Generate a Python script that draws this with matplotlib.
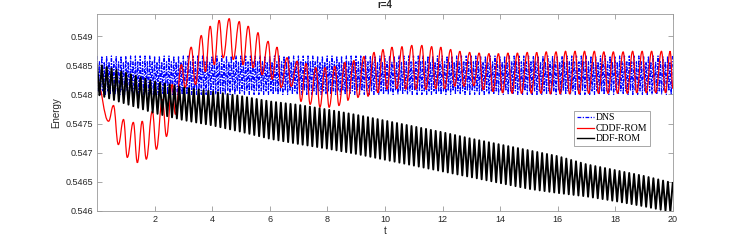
import numpy as np
import matplotlib.pyplot as plt
from matplotlib.path import Path
from matplotlib.patches import PathPatch
from matplotlib.lines import Line2D
from matplotlib.ticker import FuncFormatter

# ---- data ----
# CDDF-ROM: successive extrema (time, energy)
red_t = [0.00, 0.40, 0.57, 0.74, 0.92, 1.05, 1.26, 1.40, 1.57, 1.71, 1.92, 2.06, 2.27, 2.41,
         2.61, 2.72, 2.93, 3.06, 3.27, 3.42, 3.62, 3.76, 3.93, 4.07, 4.24, 4.38, 4.59, 4.73,
         4.94, 5.07, 5.25, 5.42, 5.59, 5.73, 5.94, 6.08, 6.25, 6.39, 6.60, 6.74, 6.95, 7.08,
         7.26, 7.40, 7.60, 7.74, 7.92, 8.06, 8.26, 8.40, 8.61, 8.71, 8.92, 9.06, 9.27, 9.41,
         9.62, 9.75, 9.93, 10.07, 10.24, 10.41, 10.59, 10.72, 10.93, 11.07, 11.28, 11.42,
         11.62, 11.76, 11.94, 12.07, 12.28, 12.42, 12.60, 12.74, 12.94, 13.08, 13.27, 13.41,
         13.61, 13.75, 13.94, 14.08, 14.27, 14.41, 14.60, 14.74, 14.94, 15.08, 15.27, 15.41,
         15.60, 15.74, 15.94, 16.08, 16.27, 16.41, 16.60, 16.74, 16.93, 17.07, 17.27, 17.41,
         17.60, 17.74, 17.93, 18.07, 18.27, 18.41, 18.60, 18.74, 18.93, 19.07, 19.26, 19.40,
         19.60, 19.74, 19.90, 20.00]
red_e = [0.54822, 0.54754, 0.54781, 0.54714, 0.54757, 0.54692, 0.54752, 0.54683, 0.54754,
         0.54689, 0.54771, 0.54706, 0.54791, 0.54728, 0.54817, 0.54766, 0.54851, 0.54812,
         0.54881, 0.54817, 0.54901, 0.54839, 0.54917, 0.54851, 0.54927, 0.54863, 0.54930,
         0.54860, 0.54925, 0.54851, 0.54917, 0.54846, 0.54906, 0.54834, 0.54891, 0.54826,
         0.54881, 0.54812, 0.54863, 0.54814, 0.54857, 0.54788, 0.54853, 0.54783, 0.54846,
         0.54778, 0.54846, 0.54778, 0.54848, 0.54781, 0.54855, 0.54790, 0.54858, 0.54795,
         0.54865, 0.54797, 0.54872, 0.54803, 0.54877, 0.54809, 0.54881, 0.54810, 0.54882,
         0.54809, 0.54884, 0.54809, 0.54884, 0.54809, 0.54882, 0.54810, 0.54881, 0.54810,
         0.54877, 0.54814, 0.54874, 0.54814, 0.54872, 0.54815, 0.54871, 0.54808, 0.54870,
         0.54805, 0.54870, 0.54803, 0.54871, 0.54802, 0.54871, 0.54802, 0.54872, 0.54802,
         0.54872, 0.54802, 0.54873, 0.54801, 0.54873, 0.54801, 0.54874, 0.54801, 0.54874,
         0.54801, 0.54874, 0.54802, 0.54874, 0.54802, 0.54873, 0.54802, 0.54873, 0.54802,
         0.54873, 0.54802, 0.54874, 0.54803, 0.54874, 0.54803, 0.54874, 0.54803, 0.54874,
         0.54803, 0.54874, 0.54810]

# DNS: one cycle of the stationary fast oscillation (successive extrema)
dns_period = 0.1665
dns_cycle = [0.54866, 0.54806, 0.54856, 0.54800]

# DDF-ROM: envelope of the fast oscillation, read at t = 0, 1, ..., 20
ddf_env_t = list(range(21))
ddf_top = [0.54852, 0.54837, 0.54822, 0.54812, 0.54805, 0.54797, 0.54788, 0.54782, 0.54774,
           0.54765, 0.54755, 0.54745, 0.54735, 0.54724, 0.54714, 0.54704, 0.54694, 0.54680,
           0.54670, 0.54660, 0.54648]
ddf_bot = [0.54800, 0.54784, 0.54768, 0.54756, 0.54747, 0.54736, 0.54724, 0.54715, 0.54707,
           0.54698, 0.54688, 0.54678, 0.54668, 0.54658, 0.54648, 0.54638, 0.54631, 0.54625,
           0.54617, 0.54608, 0.54598]
ddf_period = 0.168

xticks = [2, 4, 6, 8, 10, 12, 14, 16, 18, 20]
yticks = [0.546, 0.5465, 0.547, 0.5475, 0.548, 0.5485, 0.549]

plt.rcParams['font.family'] = ['Liberation Sans', 'DejaVu Sans']

fig = plt.figure(figsize=(7.47, 2.42), dpi=100)
ax = fig.add_axes([0.1299, 0.1281, 0.7710, 0.8140])

# DNS
t_dns = np.arange(0, 20.0001, dns_period / 4)
e_dns = np.resize(dns_cycle, len(t_dns))
ax.plot(t_dns, e_dns, color='#0000ff', lw=0.9, dashes=(3, 1.2, 1, 1.2), zorder=2)

# CDDF-ROM: smooth curve through the extrema (flat tangents at each extremum)
verts = [(red_t[0], red_e[0])]
codes = [Path.MOVETO]
for i in range(len(red_t) - 1):
    dt = red_t[i + 1] - red_t[i]
    verts += [(red_t[i] + 0.42 * dt, red_e[i]),
              (red_t[i + 1] - 0.42 * dt, red_e[i + 1]),
              (red_t[i + 1], red_e[i + 1])]
    codes += [Path.CURVE4] * 3
ax.add_patch(PathPatch(Path(verts, codes), fill=False, edgecolor='#ff0000', lw=0.9, zorder=2.1))

# DDF-ROM
t_ddf = np.arange(0, 20.0001, ddf_period / 2)
top = np.interp(t_ddf, ddf_env_t, ddf_top)
bot = np.interp(t_ddf, ddf_env_t, ddf_bot)
e_ddf = np.where(np.arange(len(t_ddf)) % 2 == 0, top, bot)
ax.plot(t_ddf, e_ddf, color='black', lw=1.4, zorder=2.2)

ax.set_xlim(0, 20)
ax.set_ylim(0.546, 0.54938)
ax.set_xticks(xticks)
ax.set_yticks(yticks)
ax.yaxis.set_major_formatter(FuncFormatter(lambda v, p: '%g' % v))
ax.tick_params(direction='in', length=3.5, width=0.6, labelsize=6.5, colors='#999999',
               labelcolor='#262626', top=True, right=True, pad=3)
for s in ax.spines.values():
    s.set_color('#999999')
    s.set_linewidth(0.6)

ax.set_xlabel('t', fontsize=7, color='#262626', labelpad=1)
ax.set_ylabel('Energy', fontsize=7, color='#262626', labelpad=3)
ax.set_title('r=4', fontsize=7, fontweight='bold', color='#262626', pad=4)

handles = [Line2D([], [], color='#0000ff', lw=0.9, dashes=(3, 1.2, 1, 1.2)),
           Line2D([], [], color='#ff0000', lw=0.9),
           Line2D([], [], color='black', lw=1.0)]
leg = ax.legend(handles, ['DNS', 'CDDF-ROM', 'DDF-ROM'], loc='upper left',
                bbox_to_anchor=(0.829, 0.51), fancybox=False, framealpha=1,
                prop={'family': 'Liberation Serif', 'size': 7}, handlelength=1.7,
                handletextpad=0.2, labelspacing=0.15, borderpad=0.3, borderaxespad=0)
leg.get_frame().set_edgecolor('#999999')
leg.get_frame().set_linewidth(0.6)

fig.savefig('out.png', dpi=100)
